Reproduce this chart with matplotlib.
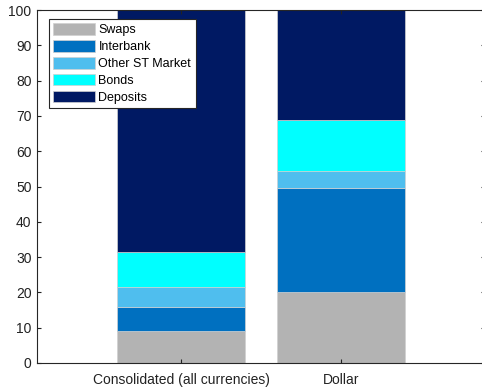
import matplotlib
matplotlib.use('Agg')
import matplotlib.pyplot as plt
import numpy as np

categories = ['Consolidated (all currencies)', 'Dollar']
swaps = [9.1, 20.2]
interbank = [6.8, 29.5]
other_st = [5.7, 4.6]
bonds = [9.8, 14.6]
deposits = [68.6, 31.1]

series = [('Swaps', swaps, '#b3b3b3'),
          ('Interbank', interbank, '#0070c0'),
          ('Other ST Market', other_st, '#4fbeee'),
          ('Bonds', bonds, '#00ffff'),
          ('Deposits', deposits, '#001963')]

plt.rcParams['font.family'] = 'Liberation Sans'

fig = plt.figure(figsize=(4.82, 3.87), dpi=100)
ax = fig.add_axes([37 / 482, 24 / 387, 448 / 482, 353 / 387])

x = np.arange(1, len(categories) + 1)
bottom = np.zeros(len(categories))
for name, vals, col in series:
    ax.bar(x, vals, 0.8, bottom=bottom, color=col, label=name,
           edgecolor='#d0d0d0', linewidth=0.5)
    bottom += np.array(vals)

ax.set_xlim(0.1, 2.9)
ax.set_ylim(0, 100)
ax.set_xticks(x)
ax.set_xticklabels(categories)
ax.set_yticks(range(0, 101, 10))
ax.tick_params(direction='in', length=3, width=0.8, labelsize=10,
               colors='#222222', top=True, right=True)
ax.tick_params(axis='x', pad=7)
ax.tick_params(axis='y', pad=4)
for s in ax.spines.values():
    s.set_color('#262626')
    s.set_linewidth(0.8)

leg = ax.legend(loc='upper left', bbox_to_anchor=(12 / 448, 1 - 9 / 353),
                fontsize=9, fancybox=False, framealpha=1, edgecolor='#262626',
                handlelength=3.35, handleheight=1.05, borderpad=0.35,
                labelspacing=0.3, handletextpad=0.25, borderaxespad=0)
leg.get_frame().set_linewidth(0.8)

fig.savefig('out.png', dpi=100)
